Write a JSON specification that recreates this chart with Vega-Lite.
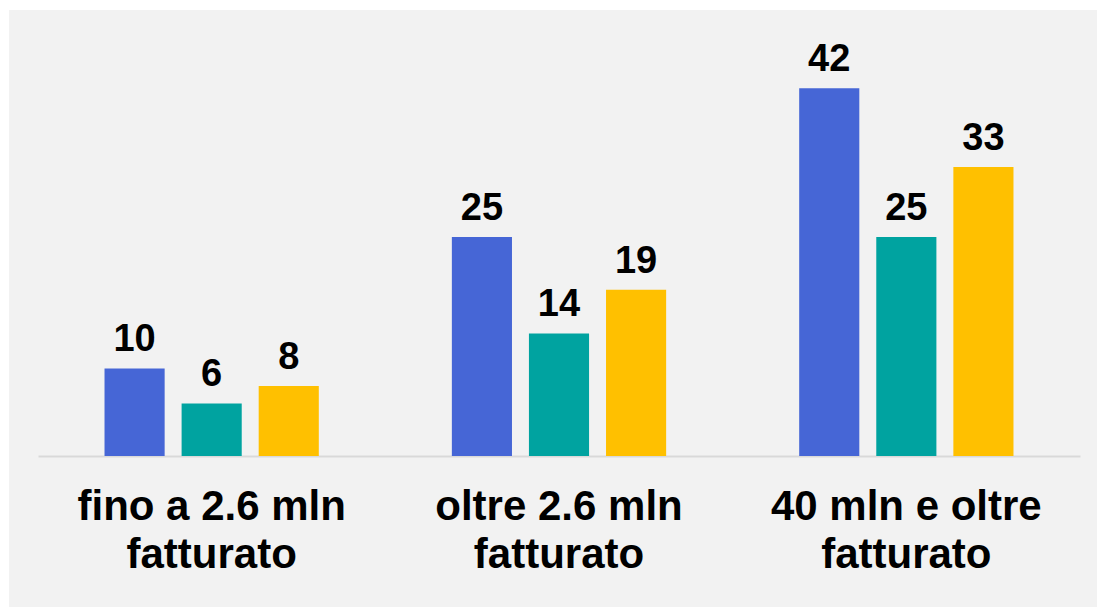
{
  "$schema": "https://vega.github.io/schema/vega-lite/v6.json",
  "width": 1088,
  "height": 597,
  "autosize": {"type": "none"},
  "padding": {"left": 9, "top": 10, "right": 0, "bottom": 0},
  "background": "#ffffff",
  "config": {
    "view": {"fill": "#f2f2f2", "stroke": null},
    "font": "Liberation Sans"
  },
  "data": {
    "values": [
      {"gruppo": "fino a 2.6 mln|fatturato", "serie": "s1", "valore": 10},
      {"gruppo": "fino a 2.6 mln|fatturato", "serie": "s2", "valore": 6},
      {"gruppo": "fino a 2.6 mln|fatturato", "serie": "s3", "valore": 8},
      {"gruppo": "oltre 2.6 mln|fatturato", "serie": "s1", "valore": 25},
      {"gruppo": "oltre 2.6 mln|fatturato", "serie": "s2", "valore": 14},
      {"gruppo": "oltre 2.6 mln|fatturato", "serie": "s3", "valore": 19},
      {"gruppo": "40 mln e oltre|fatturato", "serie": "s1", "valore": 42},
      {"gruppo": "40 mln e oltre|fatturato", "serie": "s2", "valore": 25},
      {"gruppo": "40 mln e oltre|fatturato", "serie": "s3", "valore": 33}
    ]
  },
  "encoding": {
    "x": {
      "field": "gruppo",
      "type": "nominal",
      "sort": null,
      "scale": {"range": [29, 1071], "paddingInner": 0, "paddingOuter": 0},
      "axis": {
        "title": null,
        "offset": -151,
        "ticks": false,
        "labelAngle": 0,
        "labelExpr": "split(datum.value, '|')",
        "labelFont": "Liberation Sans",
        "labelFontSize": 42,
        "labelFontWeight": "bold",
        "labelColor": "#000000",
        "labelLineHeight": 48,
        "labelPadding": 30,
        "labelLimit": 0,
        "domainColor": "#d9d9d9",
        "domainWidth": 2,
        "grid": false
      }
    },
    "xOffset": {
      "field": "serie",
      "type": "nominal",
      "sort": null,
      "scale": {"paddingInner": 0.22, "paddingOuter": 0.863}
    },
    "y": {
      "field": "valore",
      "type": "quantitative",
      "scale": {"domain": [0, 45], "range": [446, 52], "nice": false, "zero": true},
      "axis": null
    }
  },
  "layer": [
    {
      "mark": {"type": "bar"},
      "encoding": {
        "color": {
          "field": "serie",
          "type": "nominal",
          "sort": null,
          "scale": {"domain": ["s1", "s2", "s3"], "range": ["#4666d6", "#00a3a0", "#ffc000"]},
          "legend": null
        }
      }
    },
    {
      "mark": {
        "type": "text",
        "baseline": "alphabetic",
        "dy": -17,
        "font": "Liberation Sans",
        "fontSize": 38,
        "fontWeight": "bold",
        "color": "#000000"
      },
      "encoding": {
        "text": {"field": "valore", "type": "quantitative"}
      }
    }
  ]
}
